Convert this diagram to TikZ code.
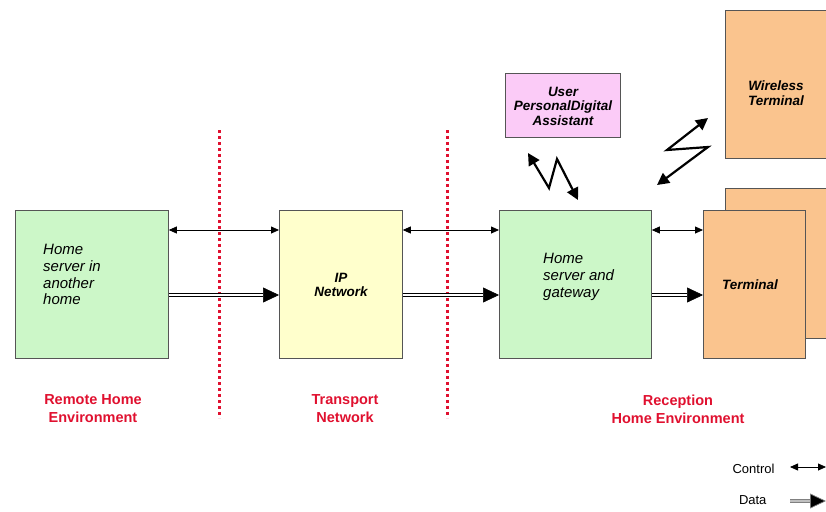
\documentclass[tikz,border=0pt]{standalone}
\usepackage{fontspec}
\setmainfont{Liberation Sans}
\usetikzlibrary{arrows.meta}
\definecolor{boxgreen}{HTML}{CCF7C8}
\definecolor{boxyellow}{HTML}{FFFFCC}
\definecolor{boxorange}{HTML}{FAC48E}
\definecolor{boxpink}{HTML}{FBCBF7}
\definecolor{edge}{HTML}{555555}
\definecolor{labred}{HTML}{E0102F}
\tikzset{
  box/.style={draw=edge, line width=0.8pt, anchor=north west, inner sep=0pt},
  plaintext/.style={font=\fontsize{15}{16.8}\selectfont\itshape, align=left, anchor=north west, inner sep=0pt},
  boldtext/.style={font=\fontsize{13.5}{14.5}\selectfont\bfseries\itshape, align=center},
  ctrl/.style={{Triangle[length=8pt,width=7pt]}-{Triangle[length=8pt,width=7pt]}, line width=0.8pt},
  data/.style={-{Triangle[length=16pt,width=15pt]}, draw=black, double=white, double distance=2.2pt, line width=0.6pt},
  zig/.style={{Triangle[length=12pt,width=12pt]}-{Triangle[length=12pt,width=12pt]}, line width=2.2pt, line join=miter},
  sep/.style={labred, line width=3pt, dash pattern=on 3pt off 3pt},
  envlabel/.style={labred, font=\fontsize{14.5}{18}\selectfont\bfseries, align=center},
  legtext/.style={font=\fontsize{13}{15}\selectfont, anchor=east},
}
\begin{document}
\begin{tikzpicture}[x=1pt,y=-1pt]
\useasboundingbox (0,0) rectangle (826,511);
% boxes
\node[box, fill=boxgreen, minimum width=153pt, minimum height=148pt] (rem) at (15,210) {};
\node[plaintext] (remt) at (43,244) {Home\\server in\\another\\home};
\node[box, fill=boxyellow, minimum width=123pt, minimum height=148pt] (ip) at (279,210) {};
\node[boldtext] (ipt) at (341,285) {IP\\Network};
\node[box, fill=boxgreen, minimum width=152pt, minimum height=148pt] (gw) at (499,210) {};
\node[plaintext] (gwt) at (543,253) {Home\\server and\\gateway};
% terminals
\node[box, fill=boxorange, minimum width=110pt, minimum height=150pt] (tback) at (725,188) {};
\node[box, fill=boxorange, minimum width=102pt, minimum height=148pt] (term) at (703,210) {};
\node[boldtext] (termt) at (750,285) {Terminal};
\node[box, fill=boxorange, minimum width=110pt, minimum height=148pt] (wl) at (725,10) {};
\node[boldtext] (wlt) at (776,93) {Wireless\\Terminal};
\node[box, fill=boxpink, minimum width=115pt, minimum height=64pt] (pda) at (505,73) {};
\node[boldtext] (pdat) at (563,106) {User\\PersonalDigital\\Assistant};
% separators
\coordinate (s1a) at (219,130); \coordinate (s1b) at (219,418);
\coordinate (s2a) at (447,130); \coordinate (s2b) at (447,418);
\draw[sep] (s1a) -- (s1b);
\draw[sep] (s2a) -- (s2b);
% control arrows
\draw[ctrl] (rem.east |- 0,230) -- (ip.west |- 0,230);
\draw[ctrl] (ip.east |- 0,230) -- (gw.west |- 0,230);
\draw[ctrl] (gw.east |- 0,230) -- (term.west |- 0,230);
% data arrows
\draw[data] (rem.east |- 0,295) -- (ip.west |- 0,295);
\draw[data] (ip.east |- 0,295) -- (gw.west |- 0,295);
\draw[data] (gw.east |- 0,295) -- (term.west |- 0,295);
% wireless zigzags
\coordinate (z1a) at (528,153); \coordinate (z1b) at (549,188);
\coordinate (z1c) at (557,159); \coordinate (z1d) at (578,200);
\draw[zig] (z1a) -- (z1b) -- (z1c) -- (z1d);
\coordinate (z2a) at (708,118); \coordinate (z2b) at (667,150);
\coordinate (z2c) at (708,147); \coordinate (z2d) at (657,185);
\draw[zig] (z2a) -- (z2b) -- (z2c) -- (z2d);
% environment labels
\node[envlabel] (l1) at (93,409) {Remote Home\\Environment};
\node[envlabel] (l2) at (345,409) {Transport\\Network};
\node[envlabel] (l3) at (678,409) {Reception\\Home Environment};
% legend
\node[legtext] (lc) at (778,469) {Control};
\node[legtext] (ld) at (770,500) {Data};
\coordinate (lca) at (790,467); \coordinate (lcb) at (826,467);
\draw[ctrl] (lca) -- (lcb);
\coordinate (lda) at (790,501); \coordinate (ldb) at (826,501);
\draw[-{Triangle[length=16pt,width=15pt]}, draw=gray, double=gray!50, double distance=2.2pt, line width=0.7pt, arrows={-{Triangle[length=16pt,width=15pt,fill=black]}}] (lda) -- (ldb);
\end{tikzpicture}
\end{document}
